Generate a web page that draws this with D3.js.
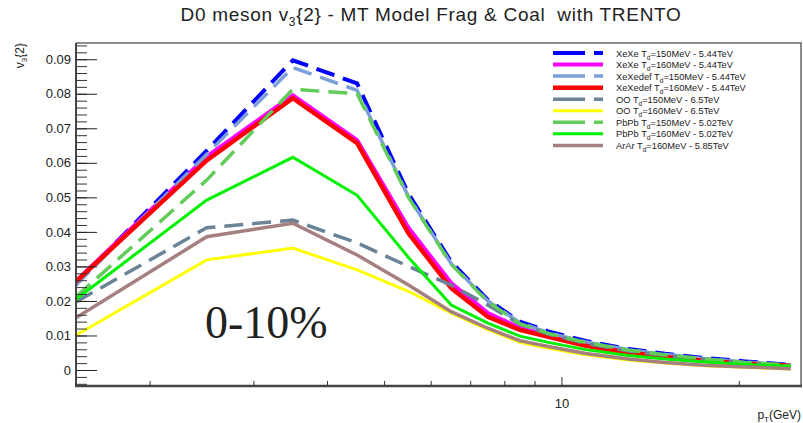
<!DOCTYPE html>
<html>
<head>
<meta charset="utf-8">
<script src="https://cdn.jsdelivr.net/npm/d3@7"></script>
<style>
  body { margin: 0; background: #fff; }
  svg text { font-family: "Liberation Sans", Arial, sans-serif; fill: #222; }
</style>
</head>
<body>
<div id="chart"></div>
<script>
// pT bin centres (GeV)
const pT = [1.5, 2.5, 3.5, 4.5, 5.5, 6.5, 7.5, 8.5, 9.5, 11, 13, 15, 17.5, 20.5, 24.5];

// v3{2} per system
const xexe150    = [0.0252, 0.0635, 0.0897, 0.0830, 0.0510, 0.0313, 0.0203, 0.0140, 0.0112, 0.0084, 0.0061, 0.0047, 0.0035, 0.0025, 0.0015];
const xexe160    = [0.0258, 0.0618, 0.0796, 0.0666, 0.0412, 0.0252, 0.0165, 0.0122, 0.0100, 0.0073, 0.0052, 0.0040, 0.0029, 0.0020, 0.0013];
const xexedef150 = [0.0246, 0.0625, 0.0876, 0.0810, 0.0502, 0.0308, 0.0200, 0.0137, 0.0108, 0.0081, 0.0059, 0.0045, 0.0033, 0.0023, 0.0014];
const xexedef160 = [0.0256, 0.0607, 0.0787, 0.0657, 0.0396, 0.0237, 0.0154, 0.0116, 0.0096, 0.0070, 0.0050, 0.0038, 0.0027, 0.0019, 0.0012];
const oo150      = [0.0197, 0.0412, 0.0434, 0.0368, 0.0300, 0.0246, 0.0188, 0.0132, 0.0104, 0.0077, 0.0055, 0.0042, 0.0031, 0.0021, 0.0012];
const oo160      = [0.0101, 0.0319, 0.0353, 0.0290, 0.0228, 0.0165, 0.0117, 0.0080, 0.0063, 0.0044, 0.0029, 0.0020, 0.0012, 0.0008, 0.0003];
const pbpb150    = [0.0212, 0.0550, 0.0813, 0.0800, 0.0500, 0.0306, 0.0198, 0.0134, 0.0106, 0.0080, 0.0058, 0.0044, 0.0032, 0.0022, 0.0014];
const pbpb160    = [0.0205, 0.0492, 0.0616, 0.0506, 0.0326, 0.0188, 0.0136, 0.0098, 0.0080, 0.0059, 0.0042, 0.0032, 0.0023, 0.0016, 0.0011];
const arar160    = [0.0151, 0.0386, 0.0425, 0.0333, 0.0246, 0.0169, 0.0121, 0.0085, 0.0068, 0.0048, 0.0032, 0.0022, 0.0014, 0.0009, 0.0004];

// legend entries: text before and after the "d" subscript
const labels = [
  ["XeXe T", "=150MeV - 5.44TeV"],
  ["XeXe T", "=160MeV - 5.44TeV"],
  ["XeXedef T", "=150MeV - 5.44TeV"],
  ["XeXedef T", "=160MeV - 5.44TeV"],
  ["OO T", "=150MeV - 6.5TeV"],
  ["OO T", "=160MeV - 6.5TeV"],
  ["PbPb T", "=150MeV - 5.02TeV"],
  ["PbPb T", "=160MeV - 5.02TeV"],
  ["ArAr T", "=160MeV - 5.85TeV"]
];
const yTicks = [0, 0.01, 0.02, 0.03, 0.04, 0.05, 0.06, 0.07, 0.08, 0.09];
const xMinorTicks = [2, 3, 4, 5, 6, 7, 8, 9, 20];
const xMajorTicks = [10];

const seriesData = [xexe150, xexe160, xexedef150, xexedef160, oo150, oo160, pbpb150, pbpb160, arar160];
const colors = ["#0000ff", "#ff00ff", "#7b9fd8", "#ff0000", "#6a8396", "#ffff00", "#62cc58", "#00f000", "#a67f7f"];
const widths = [4, 4, 3.5, 4.5, 3.5, 3, 3.5, 3, 3.5];
const dashed = [true, false, true, false, true, false, true, false, false];

const W = 803, H = 423;
const frame = {left: 76, right: 801, top: 43, bottom: 386};

const svg = d3.select("#chart").append("svg")
  .attr("width", W).attr("height", H)
  .style("display", "block");

svg.append("rect").attr("width", W).attr("height", H).attr("fill", "#fff");

const x = d3.scaleLog().domain([1.5, 25.5]).range([frame.left, frame.right]);
const y = d3.scaleLinear().domain([-0.00463, 0.0947]).range([frame.bottom, frame.top]);

// clip to frame
svg.append("clipPath").attr("id", "clip")
  .append("rect")
  .attr("x", frame.left).attr("y", frame.top)
  .attr("width", frame.right - frame.left).attr("height", frame.bottom - frame.top);

// lines
const line = d3.line().x((d, i) => x(pT[i])).y(d => y(d));
const g = svg.append("g").attr("clip-path", "url(#clip)");
seriesData.forEach((s, k) => {
  g.append("path")
    .datum(s)
    .attr("d", line)
    .attr("fill", "none")
    .attr("stroke", colors[k])
    .attr("stroke-width", widths[k])
    .attr("stroke-dasharray", dashed[k] ? "19,9" : null)
    .attr("stroke-linejoin", "miter");
});

// frame top/right
svg.append("path")
  .attr("d", `M${frame.left},${frame.top}H${frame.right}V${frame.bottom}`)
  .attr("fill", "none").attr("stroke", "#666").attr("stroke-width", 1.5);

// y axis, ticks pointing inside
const yMinor = d3.range(-0.004, 0.0947, 0.002);
const yAxisMinor = d3.axisRight(y).tickValues(yMinor).tickSize(11).tickFormat("");
svg.append("g").attr("transform", `translate(${frame.left},0)`).call(yAxisMinor)
  .call(a => a.select(".domain").remove())
  .call(a => a.selectAll("line").attr("stroke", "#333"));
const yAxis = d3.axisRight(y).tickValues(yTicks).tickSize(21)
  .tickFormat(d => d === 0 ? "0" : d3.format(".2f")(d));
svg.append("g").attr("transform", `translate(${frame.left},0)`).call(yAxis)
  .call(a => a.select(".domain").remove())
  .call(a => a.selectAll("line").attr("stroke", "#222"))
  .call(a => a.selectAll("text")
    .attr("x", -5).attr("text-anchor", "end")
    .style("font-size", "13px").attr("fill", "#333"));
svg.append("line")
  .attr("x1", frame.left).attr("x2", frame.left)
  .attr("y1", frame.top).attr("y2", frame.bottom + 1)
  .attr("stroke", "#444").attr("stroke-width", 2);

// x axis
const xAxisMinor = d3.axisTop(x).tickValues(xMinorTicks).tickSize(5).tickFormat("");
svg.append("g").attr("transform", `translate(0,${frame.bottom})`).call(xAxisMinor)
  .call(a => a.select(".domain").remove())
  .call(a => a.selectAll("line").attr("stroke", "#333"));
const xAxis = d3.axisTop(x).tickValues(xMajorTicks).tickSize(9).tickFormat(d3.format("d"));
svg.append("g").attr("transform", `translate(0,${frame.bottom})`).call(xAxis)
  .call(a => a.select(".domain").remove())
  .call(a => a.selectAll("line").attr("stroke", "#333"))
  .call(a => a.selectAll("text")
    .attr("y", 22).attr("dy", 0)
    .style("font-size", "13px").attr("fill", "#333"));
svg.append("line")
  .attr("x1", frame.left - 1).attr("x2", frame.right + 1)
  .attr("y1", frame.bottom).attr("y2", frame.bottom)
  .attr("stroke", "#444").attr("stroke-width", 2.5);

// axis titles
const xt = svg.append("text")
  .attr("x", frame.right).attr("y", 419)
  .attr("text-anchor", "end")
  .style("font-size", "12px");
xt.append("tspan").text("p");
xt.append("tspan").attr("dy", 3).style("font-size", "8px").text("T");
xt.append("tspan").attr("dy", -3).text("(GeV)");

const yt = svg.append("text")
  .attr("transform", `translate(24,${frame.top}) rotate(-90)`)
  .attr("text-anchor", "end")
  .style("font-size", "12px");
yt.append("tspan").text("v");
yt.append("tspan").attr("dy", 3).style("font-size", "8px").text("3");
yt.append("tspan").attr("dy", -3).text("{2}");

// title
const tt = svg.append("text")
  .attr("x", 431).attr("y", 21)
  .attr("text-anchor", "middle")
  .style("font-size", "19px")
  .style("letter-spacing", "0.7px");
tt.append("tspan").text("D0 meson v");
tt.append("tspan").attr("dy", 5).style("font-size", "12px").text("3");
tt.append("tspan").attr("dy", -5).text("{2} - MT Model Frag & Coal\u00a0\u00a0with TRENTO");

// centrality label
svg.append("text")
  .attr("x", 205).attr("y", 338)
  .style("font-family", "'Liberation Serif', 'Times New Roman', serif")
  .style("font-size", "46px")
  .attr("fill", "#000")
  .text("0-10%");

// legend
const leg = svg.append("g");
const row0 = 53, rowH = 11.55;
labels.forEach((lb, k) => {
  const yy = row0 + k * rowH;
  leg.append("line")
    .attr("x1", 553).attr("x2", 603).attr("y1", yy).attr("y2", yy)
    .attr("stroke", colors[k]).attr("stroke-width", widths[k])
    .attr("stroke-dasharray", dashed[k] ? "32,9" : null);
  const t = leg.append("text")
    .attr("x", 616).attr("y", yy + 3.5)
    .style("font-size", "9.3px").attr("fill", "#333");
  t.append("tspan").text(lb[0]);
  t.append("tspan").attr("dy", 3).style("font-size", "6.5px").text("d");
  t.append("tspan").attr("dy", -3).text(lb[1]);
});
</script>
</body>
</html>
